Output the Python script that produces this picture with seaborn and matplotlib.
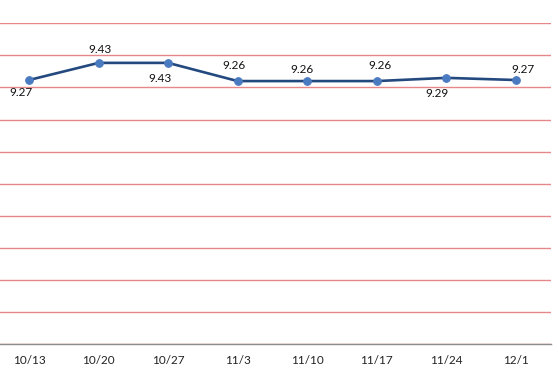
import matplotlib
matplotlib.use("Agg")
import matplotlib.pyplot as plt
import seaborn as sns
import pandas as pd

# data
dates = ["10/13", "10/20", "10/27", "11/3", "11/10", "11/17", "11/24", "12/1"]
scores = [9.27, 9.43, 9.43, 9.26, 9.26, 9.26, 9.29, 9.27]

# label offsets in pixels (dx, dy) relative to each point
label_offsets = [(-8, -12), (1, 13), (-8, -16), (-4, 16), (-5, 12), (3, 16), (-9, -16), (7, 11)]

df = pd.DataFrame({"date": dates, "score": scores})

sns.set_style("white")
plt.rcParams["font.family"] = ["Lato", "DejaVu Sans"]

fig = plt.figure(figsize=(5.58, 3.85), dpi=100)
ax = fig.add_axes([-0.0102, 0.1057, 0.9968, 0.8338])

sns.lineplot(data=df, x="date", y="score", ax=ax, color="#24497F", linewidth=1.9,
             marker="o", markersize=5.5, markerfacecolor="#4A7AC0",
             markeredgecolor="#4A7AC0", sort=False)

ax.set_xlim(-0.5, len(dates) - 0.5)
ax.set_ylim(6.8, 9.8)
ax.set_yticks([6.8 + 0.3 * i for i in range(11)])
ax.yaxis.grid(True, color="#E8878A", linewidth=1.0)
ax.set_axisbelow(True)
ax.set_yticklabels([])
ax.tick_params(axis="y", length=0)
ax.tick_params(axis="x", length=0, pad=8, labelsize=8.5, labelcolor="#222222")

for s in ["top", "right", "left"]:
    ax.spines[s].set_visible(False)
ax.spines["bottom"].set_color("#8C8C8C")
ax.spines["bottom"].set_linewidth(1.0)
ax.set_xlabel("")
ax.set_ylabel("")

for i, (v, off) in enumerate(zip(scores, label_offsets)):
    ax.annotate(f"{v:.2f}", (i, v), xytext=off, textcoords="offset pixels",
                ha="center", va="center", fontsize=8.5, color="#111111")

fig.savefig("out.png", dpi=100)
